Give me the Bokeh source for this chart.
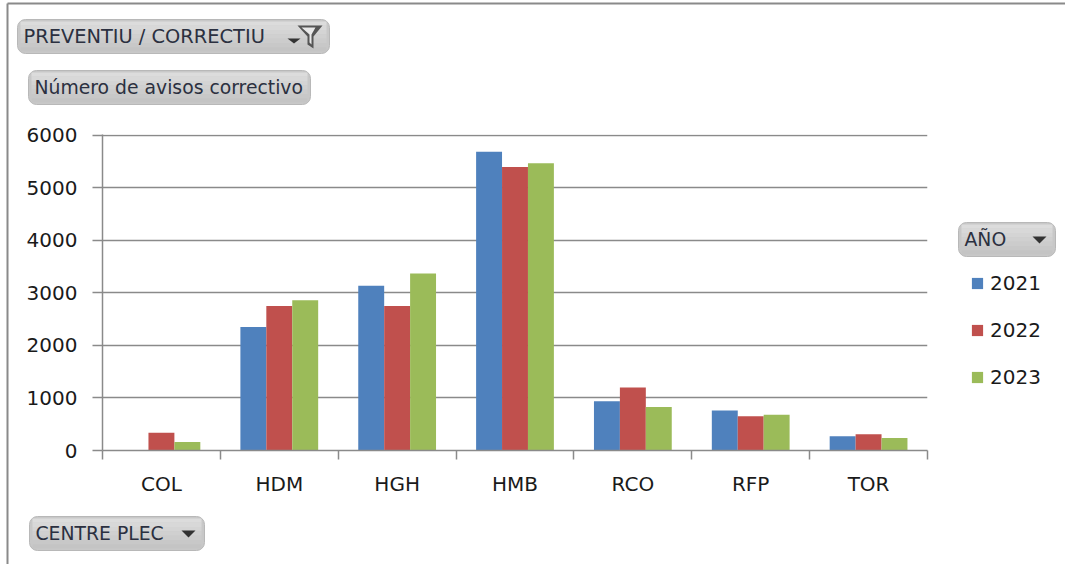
from bokeh.plotting import figure
from bokeh.layouts import column
from bokeh.embed import file_html
from bokeh.resources import INLINE
from bokeh.core.properties import value
from bokeh.models import FixedTicker, Legend, LegendItem, ColumnDataSource, Range1d

categories = ["COL", "HDM", "HGH", "HMB", "RCO", "RFP", "TOR"]
years = ["2021", "2022", "2023"]
v2021 = [0, 2350, 3140, 5690, 940, 760, 270]
v2022 = [340, 2750, 2750, 5400, 1200, 650, 310]
v2023 = [160, 2860, 3370, 5470, 830, 680, 240]
colors = ["#4F81BD", "#C0504D", "#9BBB59"]
yticks = [0, 1000, 2000, 3000, 4000, 5000, 6000]

W, H = 1065, 564
L, R, T, B = 102, 927, 134, 450
FONT = "DejaVu Sans"
TXT = "#1a1a1a"
AXC = "#8a8a8a"
BTN = "18.8px"
SHADES = ["#dcdcdc", "#d8d8d8", "#d4d4d4", "#d0d0d0", "#cccccc", "#c8c8c8", "#c4c4c4"]

# ---- backdrop: frame covers the whole canvas, data units are pixels from the top-left
bg = figure(width=W, height=H, output_backend="svg", toolbar_location=None,
            x_range=Range1d(0, W), y_range=Range1d(H, 0), min_border=0,
            outline_line_color=None, x_axis_location=None, y_axis_location=None)
bg.xgrid.visible = False
bg.ygrid.visible = False


def button(x0, x1, y0, y1, text, tx, size=BTN):
    mid = (y0 + y1) / 2
    bg.quad(left=[x0], right=[x1], top=[y0], bottom=[y1], fill_color="#c8c8c8", line_color="#b8b8b8",
            line_width=1, border_radius=8)
    n = len(SHADES)
    h = (y1 - y0 - 4) / n
    for i, s in enumerate(SHADES):
        bg.quad(left=[x0 + 3], right=[x1 - 3], top=[y0 + 2 + i * h], bottom=[y0 + 2 + (i + 1) * h],
                fill_color=s, line_color=None)
    bg.text(x=[tx], y=[mid], text=[text], text_font=value(FONT), text_font_size=value(size),
            text_color="#2b3040", text_baseline="middle")


def poly(xs, ys, color):
    bg.patch(xs, ys, fill_color=color, line_color=None)


bg.line([7, 7], [H, 3], line_color=AXC, line_width=2)
bg.line([7, W], [3, 3], line_color=AXC, line_width=2)
button(17, 329, 19, 53, "PREVENTIU / CORRECTIU", 23, "19.4px")
poly([287, 300, 293.5], [38, 38, 43], "#333333")
poly([297, 322, 313, 313, 307, 307], [25, 25, 36, 48, 44, 36], "#555555")
poly([301, 315, 311, 311, 309, 309], [27, 27, 34, 44, 42, 34], "#e8e8e8")
button(28, 310, 70, 104, "Número de avisos correctivo", 34)
button(958, 1055, 222, 256, "AÑO", 964)
poly([1032, 1046, 1039], [236, 236, 243], "#333333")
button(29, 204, 516, 550, "CENTRE PLEC", 35)
poly([181, 195, 188], [530, 530, 537], "#333333")

items = []
for c, y in zip(colors, years):
    # the quad itself lies off the canvas: it only gives the legend its swatch colour
    r = bg.quad(left=[-30], right=[-20], top=[-30], bottom=[-20], fill_color=c, line_color=None)
    items.append(LegendItem(label=value(y), renderers=[r]))
bg.add_layout(Legend(items=items, location=(970, 175), background_fill_alpha=0, border_line_color=None,
                     label_text_font=FONT, label_text_font_size="20px", label_text_color=TXT,
                     glyph_width=14, glyph_height=14, spacing=23, padding=0, margin=0, label_standoff=6), "center")

# ---- chart laid over the backdrop
p = figure(width=W, height=H, output_backend="svg", toolbar_location=None,
           x_range=Range1d(0, len(categories)), y_range=Range1d(0, 6019),
           min_border_left=L, min_border_right=W - R, min_border_top=T, min_border_bottom=H - B,
           outline_line_color=None, background_fill_alpha=0, border_fill_alpha=0)

BAR = 0.22
for k, (vals, c) in enumerate(zip([v2021, v2022, v2023], colors)):
    src = ColumnDataSource(dict(x=[i + 0.5 + (k - 1) * BAR for i in range(len(categories))], top=vals))
    p.vbar(x="x", top="top", width=BAR, source=src, fill_color=c, line_color=None)

p.xaxis.ticker = FixedTicker(ticks=[i + 0.5 for i in range(len(categories))],
                             minor_ticks=list(range(len(categories) + 1)))
p.xaxis.major_label_overrides = {i + 0.5: c for i, c in enumerate(categories)}
p.xaxis.major_tick_line_color = None
p.xaxis.major_tick_out = 0
p.xaxis.major_tick_in = 0
p.xaxis.minor_tick_out = 9
p.xaxis.minor_tick_in = 0
p.xaxis.minor_tick_line_color = AXC
p.xaxis.minor_tick_line_width = 1.5
p.xaxis.major_label_standoff = 12
p.yaxis.ticker = FixedTicker(ticks=yticks)
p.yaxis.minor_tick_line_color = None
p.yaxis.major_tick_out = 10
p.yaxis.major_tick_in = 0
p.yaxis.major_tick_line_color = AXC
p.yaxis.major_tick_line_width = 1.5
p.yaxis.major_label_standoff = 15
for ax in (p.xaxis[0], p.yaxis[0]):
    ax.axis_line_color = AXC
    ax.axis_line_width = 1.5
    ax.major_label_text_font = FONT
    ax.major_label_text_font_size = "20px"
    ax.major_label_text_color = TXT
p.xgrid.visible = False
p.ygrid.ticker = FixedTicker(ticks=yticks)
p.ygrid.grid_line_color = AXC
p.ygrid.grid_line_width = 1.5

top = column(p, width=W, height=H, styles={"position": "absolute", "left": "0px", "top": "0px"})
layout = column(column(bg, width=W, height=H), top, width=W, height=H)
open("out.html", "w").write(file_html(layout, INLINE))
